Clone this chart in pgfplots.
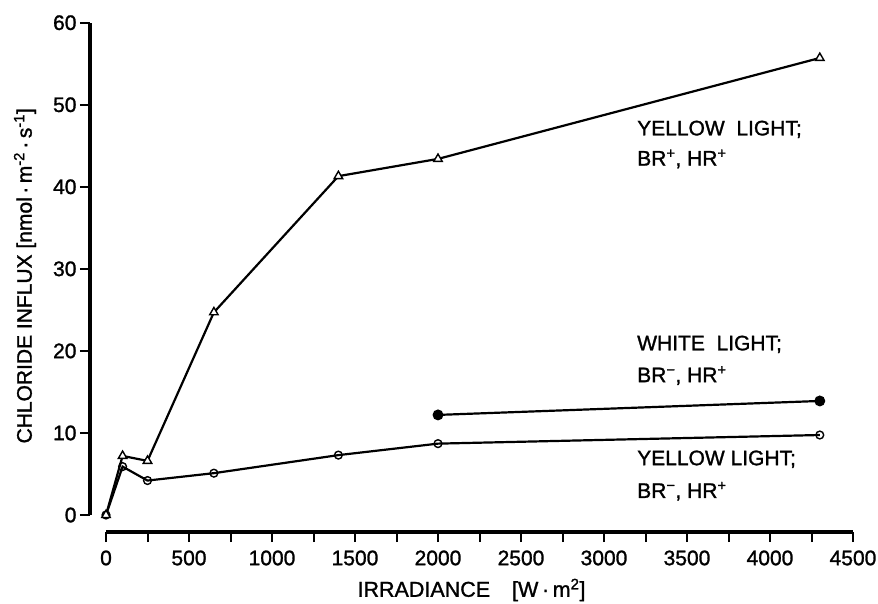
\documentclass[border=0pt]{standalone}
\usepackage{pgfplots}
\pgfplotsset{compat=1.18}
\usepackage{fontspec}
\setmainfont{Liberation Sans}
\newfontfamily\heavy{Liberation Sans}[FakeBold=1.3]
\begin{document}
\begin{tikzpicture}
\begin{axis}[
  scale only axis, width=763pt, height=509.3pt,
  xmin=-96.4, xmax=4500, ymin=-2.07, ymax=60,
  axis x line*=bottom, axis y line*=left,
  axis line style={draw=none},
  xtick={0,500,...,4500}, minor xtick={250,750,...,4250},
  ytick={0,10,...,60},
  tick align=outside, major tick length=10pt, minor tick length=10pt,
  every tick/.style={black, line width=2pt},
  every minor tick/.style={black, line width=2pt},
  tick label style={font=\fontsize{21}{25}\heavy},
  xticklabel style={yshift=-5pt},
  /pgf/number format/assume math mode=true,
  /pgf/number format/set thousands separator={},
  xlabel={IRRADIANCE\hspace{22pt}[W\,·\,m\textsuperscript{2}]},
  ylabel={CHLORIDE\ INFLUX\ [nmol\,·\,m\textsuperscript{-2}\,·\,s\textsuperscript{-1}]},
  every axis x label/.style={at={(rel axis cs:0.5,0)}, yshift=-58pt, anchor=center,
    font=\fontsize{21.5}{26}\heavy},
  every axis y label/.style={at={(rel axis cs:0,0.503)}, xshift=-65pt, rotate=90, anchor=center,
    font=\fontsize{21}{26}\heavy},
  clip=false,
]
\draw[line width=3.6pt] (axis cs:-96.4,0) -- (axis cs:-96.4,60);
\draw[line width=3.6pt] (axis cs:0,-2.07) -- (axis cs:4500,-2.07);

% Yellow light; BR-, HR+
\addplot[black, line width=2.2pt, mark=o, mark size=3.9pt,
  mark options={fill=white, line width=1.4pt}] coordinates {
  (0,0) (100,5.9) (250,4.2) (650,5.1) (1400,7.3) (2000,8.7) (4300,9.75)
};
% Yellow light; BR+, HR+
\addplot[black, line width=2.2pt, mark=triangle*, mark size=4.9pt,
  mark options={fill=white, line width=1.4pt}] coordinates {
  (0,0) (100,7.2) (250,6.6) (650,24.7) (1400,41.3) (2000,43.4) (4300,55.7)
};
% White light; BR-, HR+
\addplot[black, line width=2.2pt, mark=*, mark size=4.3pt,
  mark options={fill=black}] coordinates {
  (2000,12.2) (4300,13.9)
};

\begin{scope}[every node/.style={anchor=west, inner sep=0pt, font=\fontsize{21}{25}\heavy}]
\node at (axis cs:3199,47.0) {YELLOW\ \ LIGHT;};
\node at (axis cs:3199,43.4) {BR\textsuperscript{+}, HR\textsuperscript{+}};
\node at (axis cs:3199,20.8) {WHITE\ \ LIGHT;};
\node at (axis cs:3199,17.0) {BR\textsuperscript{−}, HR\textsuperscript{+}};
\node at (axis cs:3199,6.8) {YELLOW\ LIGHT;};
\node at (axis cs:3199,2.9) {BR\textsuperscript{−}, HR\textsuperscript{+}};
\end{scope}
\end{axis}
\pgfresetboundingbox
\path ([shift={(-90pt,-71pt)}]current axis.south west) rectangle ([shift={(25pt,22.7pt)}]current axis.north east);
\end{tikzpicture}
\end{document}
